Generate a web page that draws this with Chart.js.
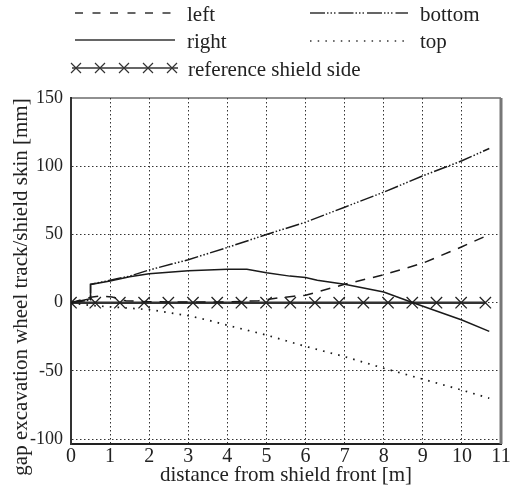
<!DOCTYPE html>
<html><head><meta charset="utf-8">
<script src="https://cdn.jsdelivr.net/npm/chart.js@4"></script>
<style>
html,body{margin:0;padding:0;background:#fff;}
#wrap{position:relative;width:517px;height:490px;overflow:hidden;}
#c{position:absolute;left:0;top:0;}
#ov{position:absolute;left:0;top:0;pointer-events:none;}
#ov text{font-family:'Liberation Serif','Times New Roman',serif;fill:#222;}
</style></head><body>
<div id="wrap">
<canvas id="c" width="517" height="490"></canvas>
<svg id="ov" width="517" height="490">
  <line x1="75" y1="13" x2="175" y2="13" stroke="#333" stroke-width="1.3" stroke-dasharray="8,9.5"/>
  <text x="187" y="14" font-size="21" dominant-baseline="central">left</text>
  <line x1="310" y1="13" x2="408" y2="13" stroke="#333" stroke-width="1.3" stroke-dasharray="15,2,1.5,2,1.5,2,1.5,3"/>
  <text x="420" y="14" font-size="21" dominant-baseline="central">bottom</text>
  <line x1="75" y1="40" x2="175" y2="40" stroke="#333" stroke-width="1.3"/>
  <text x="187" y="41" font-size="21" dominant-baseline="central">right</text>
  <line x1="310" y1="41" x2="408" y2="41" stroke="#333" stroke-width="1.3" stroke-dasharray="1.5,6.2"/>
  <text x="420" y="41" font-size="21" dominant-baseline="central">top</text>
  <line x1="72" y1="68" x2="178" y2="68" stroke="#333" stroke-width="1.6"/>
  <g stroke="#333" stroke-width="1.2">
    <path d="M71,63 L81,73 M71,73 L81,63"/>
    <path d="M95,63 L105,73 M95,73 L105,63"/>
    <path d="M119,63 L129,73 M119,73 L129,63"/>
    <path d="M143,63 L153,73 M143,73 L153,63"/>
    <path d="M167,63 L177,73 M167,73 L177,63"/>
  </g>
  <text x="188" y="69" font-size="21" dominant-baseline="central">reference shield side</text>
  <text x="20" y="287" font-size="21" text-anchor="middle" dominant-baseline="central" transform="rotate(-90 20 287)">gap excavation wheel track/shield skin [mm]</text>
</svg>
</div>
<script>
const xTicks = [0,1,2,3,4,5,6,7,8,9,10,11];
const yTicks = [-100,-50,0,50,100,150];

const leftX   = [0,0.5,0.75,1.05,1.4,2,3,4,4.8,5.3,5.7,6,7,8,9,10,10.7];
const leftY   = [0,4,5,4.2,1.5,0.7,0.5,0.5,1.5,3.5,4.8,5.5,13.5,20.5,29,41,50];

const rightX  = [0,0.5,0.5,1,1.5,2,3,4,4.5,5,5.6,6,6.3,7,8,8.75,10,10.7];
const rightY  = [0,3,13.4,16,19,21.3,23.5,24.5,24.5,22,19.5,18.5,16.5,13.5,7.8,0,-12.7,-21];

const bottomX = [0,0.5,0.5,1,1.5,2,3,4,5,6,7,8,9,10,10.7];
const bottomY = [0,2,13.4,16.5,19.5,24,31.5,40.5,50,59,70,81,93,104,113];

const topX    = [0,0.5,1,2,3,3.5,4,5,6,7,8,9,10,10.7];
const topY    = [0,-2,-3,-5,-9.5,-12.7,-16.5,-23.7,-32,-39.5,-48,-56,-64,-70];

const refX    = [0,0.62,1.25,1.87,2.49,3.12,3.74,4.36,4.99,5.61,6.24,6.86,7.48,8.11,8.73,9.35,9.98,10.6];
const refY    = [0,0,0,0,0,0,0,0,0,0,0,0,0,0,0,0,0,0];

const pts = (xs, ys) => xs.map((x, i) => ({x, y: ys[i]}));

const frame = {
  id: 'frame',
  afterDatasetsDraw(chart) {
    const {ctx, chartArea: a} = chart;
    ctx.save();
    ctx.setLineDash([]);
    ctx.strokeStyle = '#222'; ctx.lineWidth = 1.2;
    ctx.beginPath(); ctx.moveTo(a.left, a.top); ctx.lineTo(a.right, a.top); ctx.stroke();
    ctx.strokeStyle = '#777'; ctx.lineWidth = 3;
    ctx.beginPath(); ctx.moveTo(a.right, a.top); ctx.lineTo(a.right, a.bottom); ctx.stroke();
    ctx.restore();
  }
};

const FONT = "'Liberation Serif', 'Times New Roman', serif";
const base = {showLine: true, fill: false, pointRadius: 0, tension: 0, borderColor: '#1a1a1a', borderWidth: 1.5};

new Chart(document.getElementById('c'), {
  type: 'scatter',
  data: {
    datasets: [
      Object.assign({}, base, {label: 'left', data: pts(leftX, leftY), borderDash: [10, 8]}),
      Object.assign({}, base, {label: 'right', data: pts(rightX, rightY)}),
      Object.assign({}, base, {label: 'bottom', data: pts(bottomX, bottomY), borderDash: [14,2,1.5,2,1.5,2,1.5,2]}),
      Object.assign({}, base, {label: 'top', data: pts(topX, topY), borderDash: [1.6, 6.2], borderWidth: 1.7}),
      Object.assign({}, base, {label: 'reference shield side', data: pts(refX, refY), borderColor: '#333', borderWidth: 2.6,
        pointRadius: 8, pointStyle: 'crossRot', pointBorderColor: '#222', pointBorderWidth: 1.3, pointHoverRadius: 8})
    ]
  },
  options: {
    responsive: false,
    animation: false,
    events: [],
    layout: {padding: {top: 98, right: 16, left: 0, bottom: 0}},
    plugins: {legend: {display: false}, tooltip: {enabled: false}},
    scales: {
      x: {
        type: 'linear', min: 0, max: 11,
        afterBuildTicks: s => { s.ticks = xTicks.map(v => ({value: v})); },
        afterFit: s => { s.height = 46; },
        ticks: {font: {family: FONT, size: 20}, color: '#222', padding: 1},
        grid: {drawTicks: false, lineWidth: 1,
          color: c => (c.tick && (c.tick.value === 0 || c.tick.value === 11)) ? 'rgba(0,0,0,0)' : '#333'},
        border: {display: true, color: '#222', width: 2, dash: [1.5, 2.5]},
        title: {display: true, text: 'distance from shield front [m]', font: {family: FONT, size: 21}, color: '#222', padding: {top: 0, bottom: 2}}
      },
      y: {
        type: 'linear', min: -103.5, max: 150,
        afterBuildTicks: s => { s.ticks = yTicks.map(v => ({value: v})); },
        afterFit: s => { s.width = 71; },
        ticks: {font: {family: FONT, size: 18}, color: '#222', padding: 8},
        grid: {drawTicks: false, lineWidth: 1,
          color: c => (c.tick && c.tick.value === 150) ? 'rgba(0,0,0,0)' : '#333'},
        border: {display: true, color: '#333', width: 2, dash: [1.5, 2.5]}
      }
    }
  },
  plugins: [frame]
});
</script>
</body></html>
